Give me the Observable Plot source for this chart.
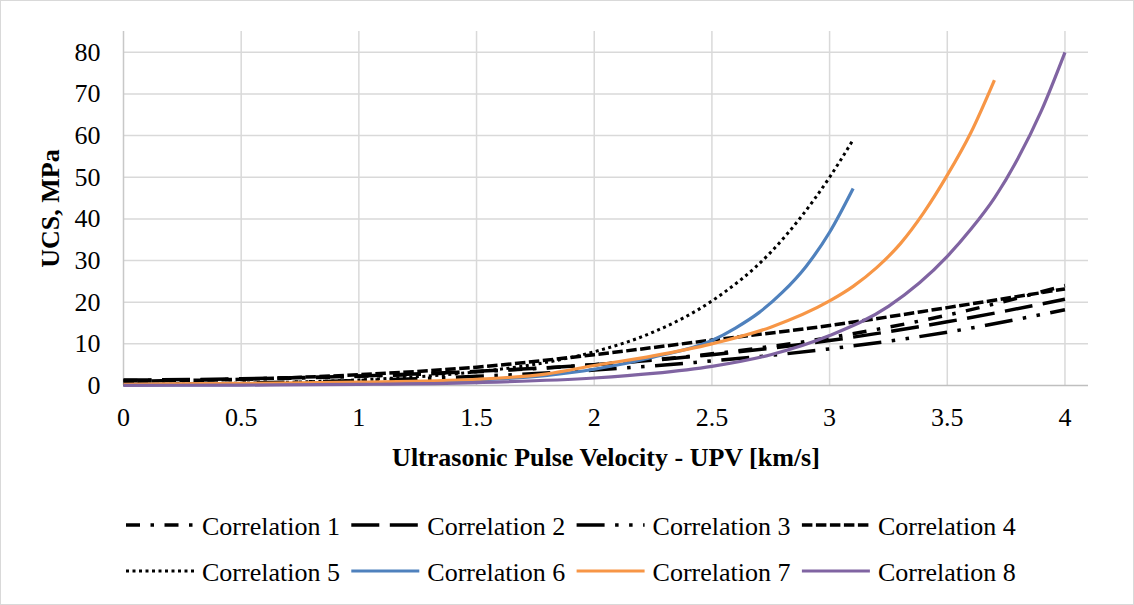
<!DOCTYPE html>
<html><head><meta charset="utf-8">
<script src="https://cdn.jsdelivr.net/npm/d3@7"></script>
<script src="https://cdn.jsdelivr.net/npm/@observablehq/plot@0.6"></script>
<style>
html,body{margin:0;padding:0;background:#fff;}
#chart{position:relative;width:1134px;height:605px;overflow:hidden;background:#fff;}
#chart svg{position:absolute;left:0;}
#frame{position:absolute;left:0;top:0;width:1134px;height:605px;box-sizing:border-box;border:1px solid #d9d9d9;pointer-events:none;}
</style></head>
<body>
<div id="chart"><div id="frame"></div></div>
<script>
// ---- data ----
const seriesNames = ["Correlation 1","Correlation 2","Correlation 3","Correlation 4","Correlation 5","Correlation 6","Correlation 7","Correlation 8"];
const xTitle = "Ultrasonic Pulse Velocity - UPV [km/s]";
const yTitle = "UCS, MPa";
const xTicks = [0,0.5,1,1.5,2,2.5,3,3.5,4];
const yTicks = [0,10,20,30,40,50,60,70,80];

const upvBlack = [0,0.5,1,1.5,2,2.5,3,3.5,4];
const ucs1 = [1.2,1.5,2.2,3.3,5.0,7.6,11.5,16.9,24.0];
const ucs2 = [1.3,1.6,2.3,3.4,5.0,7.4,10.8,15.3,20.7];
const ucs3 = [0.3,0.6,1.2,2.2,3.7,5.9,8.8,12.8,18.2];
const ucs4 = [1.0,1.5,2.6,4.4,7.4,10.9,14.4,18.7,23.2];

const upv5 = [0,0.5,1,1.5,1.75,2,2.25,2.5,2.75,3,3.1];
const ucs5 = [0.2,0.55,1.35,3.3,5.1,8.1,12.8,20.3,32,50,59];

const upv6 = [0,0.5,1,1.5,1.8,2,2.25,2.5,2.6,2.7,2.8,2.9,3,3.1];
const ucs6 = [0.1,0.2,0.5,1.3,2.4,3.9,6.8,10.8,13.8,17.5,22.4,28.6,36.8,47.3];

const upv7 = [0,0.5,1,1.5,1.8,2,2.25,2.5,2.75,3,3.1,3.2,3.3,3.4,3.5,3.6,3.7];
const ucs7 = [0.3,0.5,0.8,1.5,2.8,4.8,7.1,10,14,20.3,23.8,28.3,34,41.5,50.5,60.7,73.3];

const upv8 = [0,0.5,1,1.5,2,2.25,2.5,2.75,3,3.25,3.5,3.6,3.7,3.8,3.9,4];
const ucs8 = [0.04,0.1,0.27,0.7,1.8,2.9,4.6,7.4,12,19,31,37.5,45,54.5,66,80];

// ---- styles ----
const seriesColors = ["#000","#000","#000","#000","#000","#4F81BD","#F79646","#8064A2"];
const seriesDash = ["14,10.5,3.5,10.5","28,10.5","28,10.5,3.5,10.5,3.5,10.5","10.5,3.5","3,3.5",null,null,null];
const seriesWidth = [3.5,3.5,3.5,3.5,3,3.2,3.2,3.2];

const xs = [upvBlack,upvBlack,upvBlack,upvBlack,upv5,upv6,upv7,upv8];
const ys = [ucs1,ucs2,ucs3,ucs4,ucs5,ucs6,ucs7,ucs8];
const tables = seriesNames.map((name,i) => xs[i].map((v,j) => ({name, upv: v, ucs: ys[i][j]})));

const font = "'Liberation Serif','Times New Roman',serif";

const lineMarks = tables.map((t,i) => Plot.line(t, {
  x: "upv", y: "ucs", curve: "monotone-x",
  stroke: seriesColors[i], strokeWidth: seriesWidth[i],
  strokeDasharray: seriesDash[i] || undefined, strokeLinecap: "butt", strokeLinejoin: "round"
}));

const plot = Plot.plot({
  width: 1134, height: 480,
  marginLeft: 123, marginRight: 46, marginTop: 31, marginBottom: 95,
  x: {domain: [0, 4.1]},
  y: {domain: [0, 85]},
  style: {fontFamily: font, fontSize: "26px", color: "black", background: "transparent", overflow: "visible"},
  marks: [
    Plot.ruleX(xTicks.filter(d => d > 0), {stroke: "#d9d9d9", strokeWidth: 1.5}),
    Plot.ruleY(yTicks.filter(d => d > 0), {stroke: "#d9d9d9", strokeWidth: 1.5}),
    Plot.ruleX([0], {stroke: "#c8c8c8", strokeWidth: 1.5}),
    Plot.ruleY([0], {stroke: "#bfbfbf", strokeWidth: 1.5}),
    ...lineMarks,
    Plot.axisX({ticks: xTicks, tickSize: 0, tickPadding: 22, tickFormat: d => String(d), label: null, fontSize: 26}),
    Plot.axisY({ticks: yTicks, tickSize: 0, tickPadding: 23, tickFormat: d => String(d), label: null, fontSize: 26}),
    Plot.text([xTitle], {frameAnchor: "bottom", textAnchor: "middle", lineAnchor: "middle", dy: 72.5, fontWeight: "bold", fontSize: 26, fill: "black"}),
    Plot.text([yTitle], {frameAnchor: "left", textAnchor: "middle", lineAnchor: "middle", dx: -73, rotate: -90, fontWeight: "bold", fontSize: 26, fill: "black"})
  ]
});
plot.style.top = "0px";
document.getElementById("chart").appendChild(plot);

// ---- legend ----
const leg = d3.create("svg").attr("width", 1134).attr("height", 125)
  .style("top", "480px").style("font-family", font).style("font-size", "26px");
seriesNames.forEach((name, i) => {
  const col = i % 4, row = Math.floor(i / 4);
  const x0 = 126 + 225.3 * col;
  const ly = row === 0 ? 45 : 91;
  leg.append("line").attr("x1", x0).attr("x2", x0 + 68).attr("y1", ly).attr("y2", ly)
    .attr("stroke", seriesColors[i]).attr("stroke-width", seriesWidth[i])
    .attr("stroke-dasharray", seriesDash[i]).attr("stroke-linecap", "butt");
  leg.append("text").attr("x", x0 + 76).attr("y", ly + 9.5).attr("fill", "black").text(name);
});
document.getElementById("chart").appendChild(leg.node());
</script>
</body></html>
